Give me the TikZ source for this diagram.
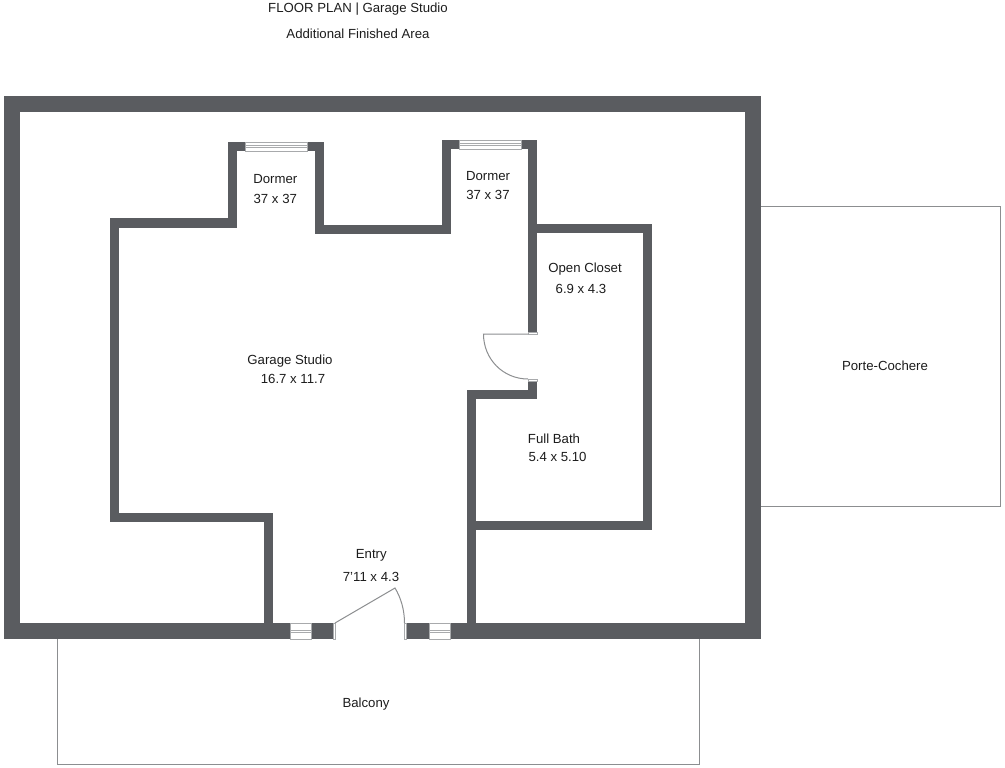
\documentclass[tikz,border=0pt]{standalone}
\usepackage{fontspec}
\setmainfont{Liberation Sans}
\definecolor{wallc}{HTML}{5A5C60}
\definecolor{linec}{HTML}{8C8E90}
\definecolor{winc}{HTML}{A8AAAC}
\definecolor{textc}{HTML}{1C1C1C}
\tikzset{
  wallfill/.style={fill=wallc,draw=none},
  thinline/.style={draw=linec,line width=1pt},
  winline/.style={draw=winc,line width=0.7pt},
  lbl/.style={font=\fontsize{13.2}{15}\selectfont,text=textc,inner sep=0pt,anchor=center}
}
\newcommand{\wallrect}[4]{\fill[wallfill] (#1,#2) rectangle (#3,#4);}
\newcommand{\winh}[4]{\fill[white] (#1,#2) rectangle (#3,#4);
  \draw[winline] (#1,#2) rectangle (#3,#4);
  \draw[winline] (#1,{#2+3.6}) -- (#3,{#2+3.6});
  \draw[winline] (#1,{#2+5.6}) -- (#3,{#2+5.6});}
\begin{document}
\begin{tikzpicture}[x=1pt,y=-1pt]
\useasboundingbox (0,0) rectangle (1005,768);
% exterior areas
\draw[thinline] (761,206.5) -- (1000.5,206.5) -- (1000.5,506.5) -- (761,506.5);
\draw[thinline] (57.5,639) -- (57.5,764.5) -- (699.5,764.5) -- (699.5,639);
% outer walls
\wallrect{4}{96}{761}{112}
\wallrect{4}{96}{20}{639}
\wallrect{745}{96}{761}{639}
\wallrect{4}{623}{761}{639}
% entry opening
\fill[white] (333,622.5) rectangle (406,640);
% inner walls
\wallrect{110}{218}{237}{228}
\wallrect{110}{218}{119}{522}
\wallrect{110}{513}{272.5}{522}
\wallrect{263.5}{513}{272.5}{623}
\wallrect{228}{142}{237}{228}
\wallrect{228}{142}{324}{151}
\wallrect{315}{142}{324}{234}
\wallrect{315}{225}{451}{234}
\wallrect{442}{140}{451}{234}
\wallrect{442}{140}{537}{149}
\wallrect{528}{140}{537}{332}
\wallrect{537}{224}{652}{233}
\wallrect{643}{224}{652}{530}
\wallrect{476}{521}{652}{530}
\wallrect{528}{381}{537}{399}
\wallrect{467}{390}{537}{399}
\wallrect{467}{390}{476}{623}
% windows
\winh{245}{142}{307}{151}
\winh{459}{140}{521}{149}
\fill[white] (290.5,623) rectangle (311.5,639);
\draw[winline] (290.5,623) rectangle (311.5,639) (290.5,630) -- (311.5,630) (290.5,632) -- (311.5,632);
\fill[white] (429.5,623) rectangle (450.5,639);
\draw[winline] (429.5,623) rectangle (450.5,639) (429.5,630) -- (450.5,630) (429.5,632) -- (450.5,632);
% door jambs
\draw[winline,fill=white] (528,332) rectangle (537,334);
\draw[winline,fill=white] (528,379) rectangle (537,381);
\draw[winline,fill=white] (333,623) rectangle (335,639);
\draw[winline,fill=white] (404.5,623) rectangle (406.5,639);
% doors
\coordinate (dooraHinge) at (528,334);
\coordinate (dooraTip) at (483.5,334);
\coordinate (dooraEnd) at (528,379);
\draw[thinline] (dooraHinge) -- (dooraTip) .. controls (483.5,359) and (503,379) .. (dooraEnd);
\coordinate (doorbHinge) at (335,623);
\coordinate (doorbTip) at (395,588);
\coordinate (doorbEnd) at (404.5,623);
\draw[thinline] (doorbHinge) -- (doorbTip) .. controls (401,598) and (404.5,610) .. (doorbEnd);
% labels
\node[lbl] (title) at (358,8.7) {FLOOR PLAN | Garage Studio};
\node[lbl] (subtitle) at (358,33.7) {Additional Finished Area};
\node[lbl] (d1a) at (275.3,178.7) {Dormer};
\node[lbl] (d1b) at (275.3,199.3) {37 x 37};
\node[lbl] (d2a) at (488,176) {Dormer};
\node[lbl] (d2b) at (488,195) {37 x 37};
\node[lbl] (ca) at (585,268.7) {Open Closet};
\node[lbl] (cb) at (581,289.3) {6.9 x 4.3};
\node[lbl] (ga) at (290,360.7) {Garage Studio};
\node[lbl] (gb) at (293,379.3) {16.7 x 11.7};
\node[lbl] (ba) at (554,438.3) {Full Bath};
\node[lbl] (bb) at (557.5,457.3) {5.4 x 5.10};
\node[lbl] (ea) at (371.3,555) {Entry};
\node[lbl] (eb) at (371,577.3) {7'11 x 4.3};
\node[lbl] (pc) at (885,366) {Porte-Cochere};
\node[lbl] (bal) at (366,703.7) {Balcony};
\end{tikzpicture}
\end{document}
